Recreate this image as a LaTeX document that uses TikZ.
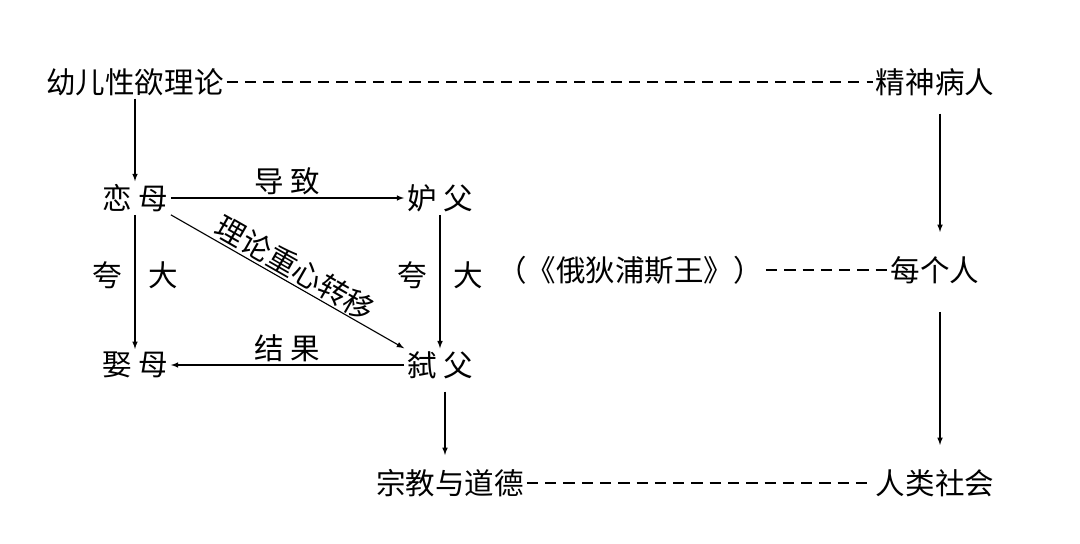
\documentclass[tikz,border=0pt]{standalone}
\usepackage{fontspec}
\newfontfamily\cjk{Noto Sans CJK SC}
\begin{document}
\begin{tikzpicture}[x=0.025cm,y=-0.025cm]
\tikzstyle{term}=[font=\cjk\fontsize{21}{25}\selectfont, inner sep=2pt]
\tikzstyle{line}=[draw, -latex, thick]
\tikzstyle{link}=[draw, dashed, thick, dash pattern=on 8pt off 5pt]
\useasboundingbox (0,0) rectangle (1080,544);

% Terms
\node[term] (theory) at (135,82) {幼儿性欲理论};
\node[term] (patient) at (935,82) {精神病人};
\node[term] (lovemom) at (135,198) {恋\ 母};
\node[term] (envydad) at (440,198) {妒\ 父};
\node[term] (marrymom) at (135,365) {娶\ 母};
\node[term] (killdad) at (440,365) {弑\ 父};
\node[term] (oedipus) at (630,270) {（《俄狄浦斯王》）};
\node[term] (everyone) at (935,270) {每个人};
\node[term] (religion) at (450,483) {宗教与道德};
\node[term] (society) at (935,483) {人类社会};

% Dashed links
\draw[link] (theory) -- (patient);
\draw[link] (oedipus) -- (everyone);
\draw[link] (religion) -- (society);

% Arrows
\draw[line] (theory) -- (lovemom);
\draw[line] (patient.south -| 940,0) ++(0,15) -- (940,232);
\draw[line] (everyone.south -| 940,0) ++(0,25) -- (940,445);
\draw[line] (lovemom) -- node[term, above] {导\ 致} (envydad);
\draw[line] (lovemom) -- node[term, pos=0.45] {夸\hspace{0.9em}大} (marrymom);
\draw[line] (envydad) -- node[term, pos=0.45] {夸\hspace{0.9em}大} (killdad);
\draw[line] (killdad) -- node[term, above] {结\ 果} (marrymom);
\draw[line] (lovemom.south east) -- node[term, above=1pt, sloped, inner sep=0pt] {理论重心转移} (killdad.north west);
\draw[line] (killdad.south -| 445,0) ++(0,10) -- (445,455);
\end{tikzpicture}
\end{document}
